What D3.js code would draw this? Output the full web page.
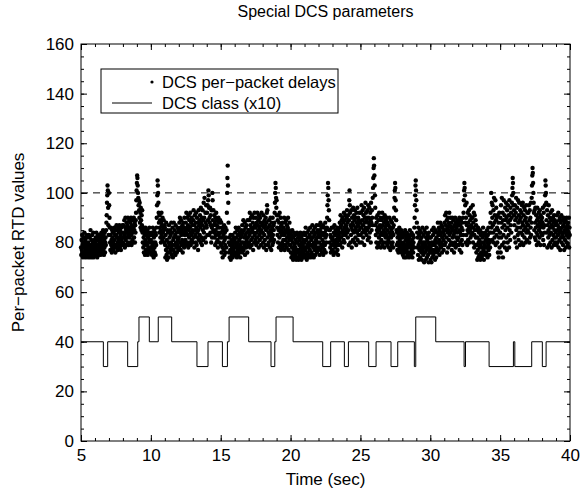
<!DOCTYPE html>
<html>
<head>
<meta charset="utf-8">
<script src="https://d3js.org/d3.v7.min.js"></script>
<style>
  body { margin: 0; background: #fff; }
  text { font-family: "Liberation Sans", Arial, Helvetica, sans-serif; fill: #000; }
</style>
</head>
<body>
<div id="chart"></div>
<script>
const title = "Special DCS parameters";
const xLabel = "Time (sec)";
const yLabel = "Per\u2212packet RTD values";
const xTicks = [5, 10, 15, 20, 25, 30, 35, 40];
const yTicks = [0, 20, 40, 60, 80, 100, 120, 140, 160];
const threshold = 100;
const legendLabels = ["DCS per\u2212packet delays", "DCS class (x10)"];

// per-packet delays, one row per second starting at t = 5 s
const delayStart = 5;
const delays = [
  [78,75,81,77,83,76,79,74,80,82,76,78,84,75,79,81,77,74,80,83,76,78,82,75,79,77,80,74,83,76,79,82,75,78,85,77,74,81,79,76,83,78,75,80,84,74,79,77,81,76],
  [77,80,75,82,78,84,76,79,74,81,83,77,79,75,82,78,80,76,83,79,75,81,77,84,78,80,76,82,79,85,77,83,75,81,78,84,76,80,82,79,85,88,91,96,99,103,101,94,87,83],
  [100,95,90,86,80,77,83,86,79,81,76,85,78,82,84,80,77,84,79,86,81,78,83,76,85,79,83,87,78,82,85,80,77,86,81,84,79,87,82,78,85,80,83,77,86,81,84,79,87,82],
  [80,84,87,79,82,89,83,78,86,90,81,85,79,88,84,82,87,80,90,83,86,79,85,89,82,84,88,80,86,90,83,79,87,85,81,89,84,80,86,90,82,85,88,80,87,84,89,92,97,101],
  [104,107,106,103,100,98,95,97,93,90,96,88,92,86,94,89,85,91,87,93,84,80,86,78,82,76,85,79,83,75,81,86,77,84,80,76,83,79,85,75,82,78,84,77,81,86,76,80,83,78],
  [81,76,84,78,75,83,79,86,77,80,74,82,85,78,76,84,80,75,83,79,86,90,95,99,105,103,100,96,92,88,84,91,86,89,82,85,80,88,92,83,87,81,90,84,86,82,89,85,80,87],
  [86,79,74,83,77,88,75,81,73,85,78,76,84,80,74,87,79,82,76,85,77,83,80,88,78,75,84,79,86,74,81,77,88,82,76,85,79,83,75,87,80,78,84,76,82,86,79,81,77,85],
  [82,78,88,84,90,80,86,77,89,83,79,85,81,87,76,84,88,80,86,78,90,83,79,85,81,88,84,92,80,86,79,90,83,87,78,91,85,82,89,80,86,92,84,79,88,83,90,81,87,85],
  [84,80,89,93,82,87,78,91,85,83,88,80,92,86,79,90,84,82,88,77,85,93,81,87,89,83,91,86,80,94,88,82,90,79,87,93,85,81,89,96,84,90,98,86,82,92,88,80,95,87],
  [86,92,83,95,89,97,101,99,94,83,90,88,94,84,91,87,80,93,86,82,100,97,89,85,93,87,84,91,82,88,79,90,85,83,92,80,87,89,81,86,78,84,90,83,88,80,86,82,89,84],
  [84,79,88,76,82,86,78,74,85,80,83,77,87,75,81,84,79,86,76,82,78,85,92,100,106,111,103,96,88,80,76,82,74,79,77,83,73,80,76,81,75,78,83,74,79,77,82,75,80,76],
  [81,75,84,78,86,76,82,79,74,85,80,77,83,75,86,78,81,76,84,79,74,82,77,85,80,83,78,87,76,84,80,89,77,85,82,79,88,75,83,86,80,78,87,81,84,76,89,82,79,85],
  [85,80,89,83,92,78,87,84,90,81,86,79,91,85,82,88,77,84,90,86,80,92,83,87,81,86,90,79,84,88,82,92,80,87,85,89,78,91,83,86,81,90,84,88,79,85,92,82,87,84],
  [84,88,80,91,78,86,83,89,81,87,79,90,85,77,88,92,95,93,82,86,79,84,80,89,83,87,78,85,90,81,84,77,88,82,86,79,90,83,80,87,85,81,88,92,96,100,104,102,98,94],
  [97,91,86,83,89,80,91,85,78,88,82,92,86,79,84,90,77,87,83,85,80,88,78,84,81,86,79,90,83,77,88,81,85,79,89,84,78,87,82,80,86,90,83,77,85,81,88,79,84,82],
  [79,76,83,74,81,78,85,75,80,73,82,77,84,76,79,74,83,78,75,81,73,80,77,84,76,80,74,82,77,73,83,79,75,81,76,84,74,78,82,73,80,77,83,75,79,74,81,76,84,78],
  [80,74,83,77,86,75,81,78,73,84,79,76,82,74,85,78,80,75,83,77,86,79,74,82,81,76,84,79,87,75,82,78,85,74,80,83,77,86,79,75,84,81,78,87,76,82,80,85,77,83],
  [84,78,87,80,75,85,82,88,77,83,79,86,76,84,81,78,87,75,83,80,86,77,84,79,88,82,76,85,80,83,86,90,95,99,104,102,97,93,89,85,80,85,78,83,76,82,79,86,77,81],
  [82,77,86,79,75,84,80,87,76,83,78,85,81,76,79,84,80,86,77,82,75,85,79,83,81,84,88,79,86,91,82,87,80,89,84,78,90,85,83,88,81,92,86,80,89,84,91,83,87,85],
  [86,90,93,84,88,82,91,85,79,89,97,101,95,92,80,87,83,93,86,78,90,85,88,81,94,87,84,91,80,89,93,85,82,90,86,79,92,88,84,94,81,87,90,83,89,85,92,80,88,86],
  [88,83,92,86,95,80,89,84,93,87,82,91,85,94,79,88,90,84,96,86,92,89,83,90,85,93,81,88,95,86,90,82,94,87,84,92,89,80,96,88,85,93,90,87,98,102,106,110,114,111],
  [107,103,99,94,87,83,90,80,88,85,78,91,84,86,79,89,82,92,85,80,87,83,90,78,86,81,89,84,92,79,87,83,90,80,85,88,78,91,84,86,82,89,80,87,83,90,79,85,88,82],
  [81,87,78,84,90,80,86,77,83,89,82,85,79,88,84,80,86,78,83,87,90,94,98,101,104,102,97,93,89,85,79,84,77,82,80,85,76,83,79,86,78,81,84,77,82,80,85,76,83,79],
  [78,82,75,84,77,80,74,83,79,76,85,78,81,74,82,77,84,79,75,80,83,76,81,78,74,82,79,85,76,80,83,75,78,84,77,81,74,79,83,76,80,82,78,86,90,95,99,103,105,101],
  [97,93,88,84,78,82,75,86,79,73,83,77,80,85,74,81,78,84,76,82,73,79,86,77,80,75,83,78,72,85,80,76,84,79,73,82,77,86,74,81,78,83,75,80,72,84,79,76,82,77],
  [78,73,82,76,72,80,85,74,79,77,83,75,86,80,76,84,79,73,81,77,85,74,82,78,80,84,76,88,80,83,77,86,81,75,85,79,88,83,78,84,80,87,76,82,86,79,84,81,77,85],
  [83,88,79,91,85,80,87,92,82,89,76,86,84,90,78,85,88,81,92,83,87,79,90,84,86,80,88,77,85,90,82,86,79,89,83,76,87,84,80,90,85,78,88,82,86,79,84,89,81,87],
  [82,88,79,85,90,77,84,87,80,89,83,76,86,81,88,79,85,90,83,92,97,101,104,102,99,95,88,80,90,83,96,87,79,85,92,81,88,84,93,86,80,91,85,89,82,94,87,83,90,86],
  [84,90,95,80,88,86,92,78,83,91,85,79,89,82,87,76,85,79,73,82,77,86,74,80,84,75,81,78,85,73,79,83,76,80,74,84,78,82,75,86,77,80,73,83,79,76,84,78,81,75],
  [76,82,78,85,80,74,83,79,86,77,81,75,84,80,78,88,92,84,100,86,96,81,90,95,87,84,93,80,98,88,82,91,85,97,79,89,94,83,90,86,80,91,76,85,88,74,82,92,78,84],
  [84,90,76,95,82,88,98,79,86,92,74,89,83,97,80,87,91,78,94,85,89,96,82,90,77,93,86,80,95,88,83,91,78,97,85,89,81,94,87,92,84,90,96,99,102,106,104,100,95,91],
  [93,87,82,95,89,80,92,98,85,90,78,94,86,83,97,88,81,91,96,84,89,79,93,86,90,84,92,80,95,88,83,96,87,79,91,85,94,82,89,93,86,80,90,95,84,88,81,92,87,85],
  [87,92,84,95,80,89,93,82,90,86,96,83,88,98,103,107,110,108,104,100,96,92,85,93,82,88,94,81,86,91,84,79,89,94,83,87,90,80,92,85,88,82,93,86,79,91,84,89,87,83],
  [90,83,88,94,81,86,92,79,87,84,95,99,105,103,100,96,89,84,93,78,87,91,82,85,95,79,88,83,90,86,80,92,84,89,78,87,93,81,86,90,83,88,79,91,85,82,89,80,87,84],
  [82,88,79,91,85,80,87,83,92,78,86,89,81,84,90,77,85,88,82,91,80,86,83,89,84,79,87,82,90,77,85,88,81,84,89,78,86,83,90,80,85,87,79,88,82,84,90,78,86,83]
];

// DCS class (x10): value holds from each change time until the next one
const classTimes = [5, 6.6, 6.91, 8.34, 9.06, 9.15, 9.89, 10.53, 11.49, 13.3, 14.09, 15.12, 15.48, 15.6,
  17.0, 18.6, 18.87, 18.96, 20.18, 22.3, 22.87, 23.85, 24.14, 25.59, 26.12, 27.19, 27.67, 28.86, 28.96,
  30.39, 32.42, 32.52, 34.21, 35.95, 36.05, 37.26, 38.02, 38.29, 40];
const classValues = [40, 30, 40, 30, 40, 50, 40, 50, 40, 30, 40, 30, 40, 50,
  40, 30, 40, 50, 40, 30, 40, 30, 40, 30, 40, 30, 40, 30, 50,
  40, 30, 40, 30, 40, 30, 40, 30, 40, 40];

const margin = {top: 44, right: 17, bottom: 57, left: 81};
const W = 587, H = 498;
const width = W - margin.left - margin.right;
const height = H - margin.top - margin.bottom;

const svg = d3.select("#chart").append("svg")
  .attr("width", W)
  .attr("height", H);

const plot = svg.append("g")
  .attr("transform", "translate(" + margin.left + "," + margin.top + ")");

const x = d3.scaleLinear().domain([5, 40]).range([0, width]);
const y = d3.scaleLinear().domain([0, 160]).range([height, 0]);

// flatten the per-second rows into points
const points = [];
delays.forEach(function(row, r) {
  row.forEach(function(v, k) {
    points.push({t: delayStart + r + k / row.length, v: v});
  });
});

const steps = classTimes.map(function(t, i) { return {t: t, v: classValues[i]}; });

// axes: ticks point inwards on all four sides
const minorX = d3.range(5, 41, 1);
const minorY = d3.range(0, 161, 5);

function styleAxis(g) {
  g.select(".domain").remove();
  g.selectAll("line").attr("stroke", "#000").attr("stroke-width", 1);
  g.selectAll("text").attr("font-size", 17).attr("font-family", null);
}

plot.append("g").attr("transform", "translate(0," + height + ")")
  .call(d3.axisBottom(x).tickValues(minorX).tickSize(-3).tickFormat(""))
  .call(styleAxis);
plot.append("g").attr("transform", "translate(0," + height + ")")
  .call(d3.axisBottom(x).tickValues(xTicks).tickSize(-6).tickPadding(8))
  .call(styleAxis);
plot.append("g")
  .call(d3.axisTop(x).tickValues(minorX).tickSize(-3).tickFormat(""))
  .call(styleAxis);
plot.append("g")
  .call(d3.axisTop(x).tickValues(xTicks).tickSize(-6).tickFormat(""))
  .call(styleAxis);

plot.append("g")
  .call(d3.axisLeft(y).tickValues(minorY).tickSize(-3).tickFormat(""))
  .call(styleAxis);
plot.append("g")
  .call(d3.axisLeft(y).tickValues(yTicks).tickSize(-6).tickPadding(7))
  .call(styleAxis);
plot.append("g").attr("transform", "translate(" + width + ",0)")
  .call(d3.axisRight(y).tickValues(minorY).tickSize(-3).tickFormat(""))
  .call(styleAxis);
plot.append("g").attr("transform", "translate(" + width + ",0)")
  .call(d3.axisRight(y).tickValues(yTicks).tickSize(-6).tickFormat(""))
  .call(styleAxis);

// dashed reference line
plot.append("line")
  .attr("x1", x(5)).attr("x2", x(40))
  .attr("y1", y(threshold)).attr("y2", y(threshold))
  .attr("stroke", "#000")
  .attr("stroke-width", 1)
  .attr("stroke-dasharray", "7,5");

// delay points
plot.append("g").selectAll("circle")
  .data(points)
  .enter().append("circle")
    .attr("cx", d => x(d.t))
    .attr("cy", d => y(d.v))
    .attr("r", 2.2)
    .attr("fill", "#000");

// class step line
const stepLine = d3.line()
  .x(d => x(d.t))
  .y(d => y(d.v))
  .curve(d3.curveStepAfter);

plot.append("path")
  .datum(steps)
  .attr("d", stepLine)
  .attr("fill", "none")
  .attr("stroke", "#000")
  .attr("stroke-width", 1);

// frame
plot.append("rect")
  .attr("width", width)
  .attr("height", height)
  .attr("fill", "none")
  .attr("stroke", "#000")
  .attr("stroke-width", 1);

// legend
const legend = plot.append("g").attr("transform", "translate(20,25)");
legend.append("rect")
  .attr("width", 237)
  .attr("height", 44)
  .attr("fill", "#fff")
  .attr("stroke", "#000");
legend.append("circle")
  .attr("cx", 51).attr("cy", 13).attr("r", 1.6).attr("fill", "#000");
legend.append("text")
  .attr("x", 61).attr("y", 13).attr("dy", "0.35em")
  .attr("font-size", 16.5)
  .text(legendLabels[0]);
legend.append("line")
  .attr("x1", 11).attr("x2", 51)
  .attr("y1", 34).attr("y2", 34)
  .attr("stroke", "#000");
legend.append("text")
  .attr("x", 61).attr("y", 34).attr("dy", "0.35em")
  .attr("font-size", 16.5)
  .text(legendLabels[1]);

// titles
svg.append("text")
  .attr("x", margin.left + width / 2)
  .attr("y", 17)
  .attr("text-anchor", "middle")
  .attr("font-size", 16)
  .text(title);

svg.append("text")
  .attr("x", margin.left + width / 2)
  .attr("y", H - 13)
  .attr("text-anchor", "middle")
  .attr("font-size", 17)
  .text(xLabel);

svg.append("text")
  .attr("transform", "translate(24," + (margin.top + height / 2) + ") rotate(-90)")
  .attr("text-anchor", "middle")
  .attr("font-size", 17)
  .text(yLabel);
</script>
</body>
</html>
